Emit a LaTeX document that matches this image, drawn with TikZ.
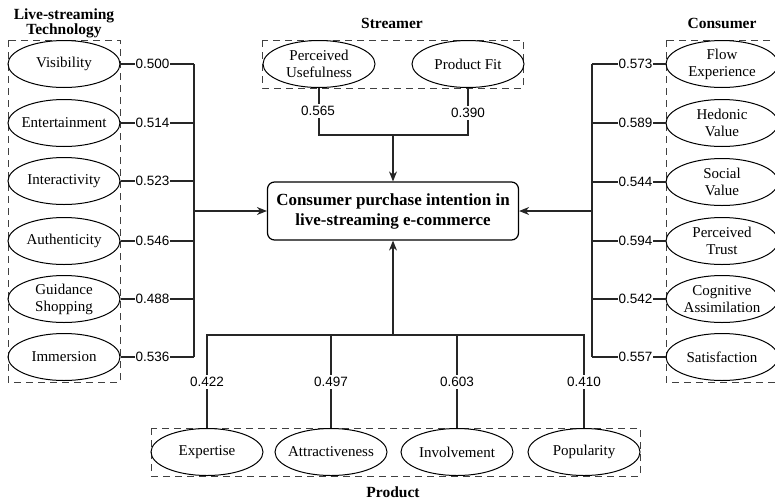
\documentclass[tikz,border=0pt]{standalone}
\usepackage{fontspec}
\setmainfont{Liberation Serif}
\newfontfamily\numfont{Liberation Sans}
\usetikzlibrary{shapes.geometric,arrows.meta}
\begin{document}
\begin{tikzpicture}[x=1pt,y=-1pt,
  ell/.style={draw, ellipse, line width=1pt, minimum width=112pt, minimum height=47pt, inner xsep=-10pt, inner ysep=0pt, align=center, font=\fontsize{15}{17}\selectfont},
  grp/.style={draw=black!75, dash pattern=on 7pt off 5pt, line width=1pt},
  num/.style={fill=white, inner sep=1pt, font=\numfont\fontsize{13.5}{15}\selectfont},
  ttl/.style={font=\bfseries\fontsize{15.5}{18}\selectfont, align=center},
  ln/.style={line width=1.2pt, draw=black!85},
  arr/.style={ln, -{Stealth[length=10pt,width=8pt]}},
]
\useasboundingbox (0,0) rectangle (775,501);

% groups
\draw[grp] (8,40) rectangle (120,382);
\draw[grp] (666,40) rectangle (790,382);
\draw[grp] (262,40) rectangle (523,88);
\draw[grp] (151,428) rectangle (640,476);

% titles
\node[ttl] (tL) at (64,23) {Live-streaming\\[-3pt]Technology};
\node[ttl] (tS) at (392,23) {Streamer};
\node[ttl] (tC) at (722,23) {Consumer};
\node[ttl] (tP) at (393,492) {Product};

% center
\node[draw, line width=1.2pt, rounded corners=7pt, minimum width=251pt, minimum height=58pt, align=center,
  font=\bfseries\fontsize{17}{20}\selectfont] (c) at (393,211) {Consumer purchase intention in\\live-streaming e-commerce};

% left
\node[ell] (L1) at (64,64) {Visibility};
\node[ell] (L2) at (64,123) {Entertainment};
\node[ell] (L3) at (64,181) {Interactivity};
\node[ell] (L4) at (64,241) {Authenticity};
\node[ell] (L5) at (64,299) {Guidance\\Shopping};
\node[ell] (L6) at (64,357) {Immersion};
\coordinate (lt) at (194,64);
\coordinate (lb) at (194,357);
\coordinate (lm) at (194,211);
\draw[ln] (lt) -- (lb);
\foreach \n/\v in {L1/0.500,L2/0.514,L3/0.523,L4/0.546,L5/0.488,L6/0.536}{
  \draw[ln] (\n.east) -- (\n -| lt);
  \node[num] at ([xshift=32pt]\n.east) {\v};
}
\draw[arr] (lm) -- (c.west);

% right
\node[ell] (R1) at (722,64) {Flow\\Experience};
\node[ell] (R2) at (722,123) {Hedonic\\Value};
\node[ell] (R3) at (722,182) {Social\\Value};
\node[ell] (R4) at (722,241) {Perceived\\Trust};
\node[ell] (R5) at (722,299) {Cognitive\\Assimilation};
\node[ell] (R6) at (722,357) {Satisfaction};
\coordinate (rt) at (592,64);
\coordinate (rb) at (592,357);
\coordinate (rm) at (592,211);
\draw[ln] (rt) -- (rb);
\foreach \n/\v in {R1/0.573,R2/0.589,R3/0.544,R4/0.594,R5/0.542,R6/0.557}{
  \draw[ln] (\n.west) -- (\n -| rt);
  \node[num] at ([xshift=-30pt]\n.west) {\v};
}
\draw[arr] (rm) -- (c.east);

% top
\node[ell] (S1) at (319,64) {Perceived\\Usefulness};
\node[ell] (S2) at (468,64) {Product Fit};
\coordinate (s1) at (319,135);
\coordinate (s2) at (468,135);
\coordinate (sm) at (393,135);
\draw[ln] (S1.south) -- (s1) -- (s2) -- (S2.south);
\node[num, inner sep=2pt] at (318,111) {0.565};
\node[num, inner sep=2pt] at (468,113) {0.390};
\draw[arr] (sm) -- (c.north);

% bottom
\node[ell] (P1) at (207,452) {Expertise};
\node[ell] (P2) at (331,452) {Attractiveness};
\node[ell] (P3) at (457,452) {Involvement};
\node[ell] (P4) at (584,452) {Popularity};
\coordinate (p1) at (207,335);
\coordinate (p4) at (584,335);
\coordinate (pm) at (393,335);
\coordinate (pl) at (207,382);
\draw[ln] (P1.north) -- (p1) -- (p4) -- (P4.north);
\draw[ln] (P2.north) -- (P2.north |- p1);
\draw[ln] (P3.north) -- (P3.north |- p1);
\foreach \n/\v in {P1/0.422,P2/0.497,P3/0.603,P4/0.410}{
  \node[num, inner sep=2pt] at (\n.north |- pl) {\v};
}
\draw[arr] (pm) -- (c.south);
\end{tikzpicture}
\end{document}
